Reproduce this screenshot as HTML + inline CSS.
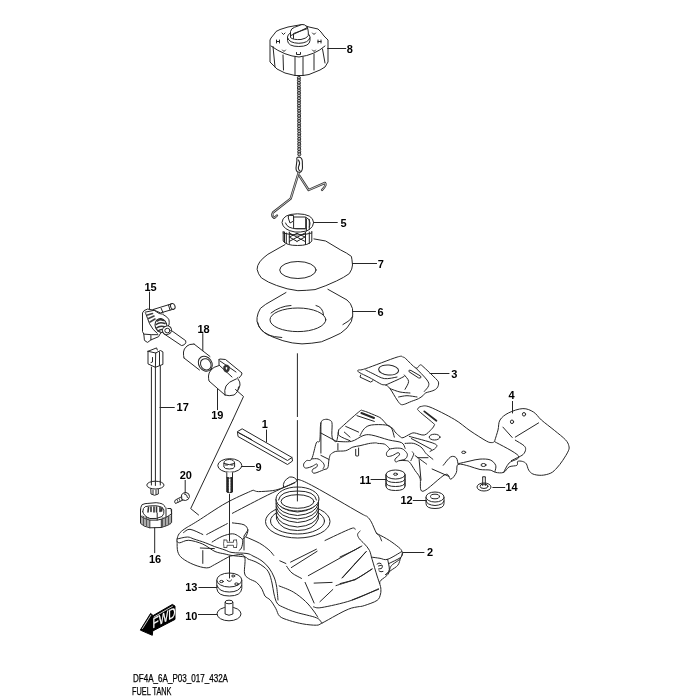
<!DOCTYPE html>
<html><head><meta charset="utf-8">
<style>
html,body{margin:0;padding:0;background:#fff;width:700px;height:700px;overflow:hidden}
svg{position:absolute;left:0;top:0;will-change:transform}
.l{fill:none;stroke:#262626;stroke-width:1;stroke-linejoin:round;stroke-linecap:round}
.w{fill:#fff;stroke:#262626;stroke-width:1;stroke-linejoin:round}
.n{font-family:"Liberation Sans",sans-serif;font-weight:bold;font-size:11px;fill:#000}
.t{font-family:"Liberation Sans",sans-serif;font-size:10px;fill:#000;stroke:#000;stroke-width:0.25}
</style></head><body>
<svg width="700" height="700" viewBox="0 0 700 700">
<path class="w" d="M177.1,539.0 C177.4,537.7 177.8,535.5 179.1,533.8 C180.4,532.1 181.8,530.8 184.9,528.7 C188.0,526.6 190.8,525.3 197.7,521.0 C204.5,516.7 217.2,507.9 226.0,503.0 C234.8,498.1 245.8,493.4 250.5,491.3 C255.2,489.2 252.7,490.6 254.0,490.6 C255.3,490.7 255.4,491.6 258.5,491.6 C261.6,491.6 268.6,491.2 272.7,490.6 C276.8,490.0 279.2,489.1 283.0,487.7 C286.8,486.3 292.9,483.3 295.6,482.0 C298.3,480.7 295.8,478.8 299.0,479.7 C302.2,480.6 304.8,481.6 315.0,487.1 C325.2,492.6 351.3,508.0 360.0,512.9 C368.7,517.8 365.2,515.1 367.1,516.6 C369.0,518.1 369.8,519.4 371.4,522.1 C372.9,524.9 375.2,531.1 376.4,533.1 C377.6,535.1 376.5,533.2 378.6,534.4 C380.8,535.6 386.0,538.2 389.3,540.4 C392.6,542.5 396.6,545.6 398.7,547.3 C400.8,549.0 401.1,549.6 401.7,550.7 C402.3,551.8 402.5,552.7 402.1,554.1 C401.8,555.5 401.2,557.6 399.6,559.3 C398.0,561.0 394.3,563.0 392.7,564.4 C391.1,565.8 390.8,566.4 390.1,567.8 C389.5,569.2 389.5,571.6 388.8,573.0 C388.1,574.4 387.4,575.0 385.9,576.4 C384.4,577.8 380.8,579.7 379.9,581.6 C379.0,583.5 380.7,585.9 380.8,588.0 C380.9,590.1 381.1,591.9 380.5,594.0 C379.9,596.1 379.8,598.5 377.1,600.4 C374.4,602.3 367.5,604.5 364.3,605.6 C361.1,606.7 360.0,606.4 357.8,606.8 C355.6,607.2 353.5,607.5 351.4,608.1 C349.3,608.8 347.6,609.5 345.0,610.7 C342.4,611.9 339.9,613.3 336.0,615.4 C332.1,617.5 325.1,621.6 321.8,623.2 C318.5,624.8 319.6,625.1 316.4,625.2 C313.2,625.3 307.3,624.7 302.8,623.9 C298.3,623.1 293.1,621.8 289.3,620.5 C285.5,619.2 282.1,618.4 279.8,616.4 C277.5,614.4 277.3,611.0 275.7,608.3 C274.1,605.6 272.1,602.1 270.3,600.1 C268.5,598.1 266.3,597.8 264.9,596.0 C263.5,594.2 263.5,591.5 262.1,589.3 C260.7,587.0 258.9,584.3 256.7,582.5 C254.4,580.7 250.6,580.0 248.6,578.4 C246.6,576.8 245.2,576.7 244.5,573.0 C243.8,569.3 246.3,558.9 244.3,556.0 C242.3,553.1 235.5,555.3 232.4,555.7 C229.3,556.1 229.0,556.8 226.0,558.3 C223.0,559.8 217.6,563.1 214.4,564.7 C211.2,566.3 210.1,567.9 206.7,567.9 C203.3,567.9 198.0,566.3 193.9,564.7 C189.8,563.1 185.0,560.4 182.3,558.3 C179.6,556.1 178.7,554.6 177.8,551.8 C176.9,549.0 177.2,543.7 177.1,541.6 C177.0,539.5 176.8,540.3 177.1,539.0 Z"/>
<path class="l" d="M232.4,513.3 C237.3,510.7 253.9,502.0 262.0,497.9 C270.1,493.8 275.3,491.4 280.7,488.9 C286.1,486.4 292.1,484.1 294.4,483.1"/>
<path class="l" d="M283.5,487.5 Q282,481 289.7,477 Q295,476.5 297,480.5"/>
<path class="l" d="M183.6,532.6 C184.7,532.0 186.8,529.0 190.0,529.3 C193.2,529.6 200.7,533.6 202.8,534.5"/>
<path class="l" d="M206.7,534.5 C208.4,533.6 213.6,530.8 217.0,529.0 C220.4,527.2 225.6,524.5 227.3,523.6"/>
<path class="l" d="M232.4,522.9 C234.3,523.2 241.4,523.6 244.0,524.8 C246.6,526.0 247.5,528.1 247.8,530.0 C248.1,531.9 246.8,534.9 245.9,536.4 C245.1,537.9 243.2,538.6 242.7,539.0"/>
<path class="l" d="M177.1,539.0 C178.8,538.7 184.6,537.0 187.4,537.0 C190.2,537.0 190.9,538.0 193.9,539.0 C196.9,540.0 202.0,541.5 205.4,542.8 C208.8,544.0 211.1,545.3 214.4,546.5 C217.7,547.7 222.1,549.0 225.0,550.0 C227.9,551.0 228.3,551.9 232.0,552.5 C235.7,553.1 243.5,552.9 247.0,553.5 C250.5,554.1 250.5,554.8 253.0,556.0 C255.5,557.2 259.3,559.0 262.0,561.0 C264.7,563.0 267.0,565.3 269.0,568.0 C271.0,570.7 272.8,574.0 274.0,577.0 C275.2,580.0 275.8,582.2 276.5,586.0 C277.2,589.8 277.8,597.7 278.0,600.0"/>
<path class="l" d="M176.8,541.0 C177.3,541.3 177.7,542.9 179.7,542.8 C181.7,542.7 184.8,540.1 188.7,540.3 C192.5,540.5 198.4,542.2 202.8,544.1 C207.2,546.0 211.3,549.9 215.0,551.5 C218.7,553.1 222.2,553.3 225.0,554.0 C227.8,554.7 228.7,555.0 232.0,555.5 C235.3,556.0 242.3,556.4 245.0,557.0 C247.7,557.6 246.2,558.2 248.0,559.0 C249.8,559.8 253.3,560.7 256.0,562.0 C258.7,563.3 261.8,565.2 264.0,567.0 C266.2,568.8 267.7,570.3 269.0,573.0 C270.3,575.7 271.2,579.5 272.0,583.0 C272.8,586.5 273.2,590.7 274.0,594.0 C274.8,597.3 275.6,600.9 277.0,603.0 C278.4,605.1 279.3,605.4 282.5,606.9 C285.7,608.4 290.5,610.5 296.1,612.3 C301.8,614.1 312.1,616.0 316.4,617.8 C320.7,619.6 320.9,622.3 321.8,623.2"/>
<path class="w" d="M211.8,542.2 C213.5,541.2 218.7,537.8 222.1,536.4 C225.5,535.0 229.6,533.8 232.4,533.8 C235.2,533.8 237.1,535.3 238.8,536.4 C240.5,537.5 242.3,538.4 242.7,540.3 C243.1,542.2 242.1,546.3 241.4,548.0 C240.8,549.7 239.2,550.2 238.8,550.6"/>
<path class="l" d="M224,540 L227,540 L227,542.3 L233.5,542.3 L233.5,540 L236.5,540 M224,547.5 L227,547.5 L227,545.3 L233.5,545.3 L233.5,547.5 L236.5,547.5 M224,540 Q223,543.8 224,547.5 M236.5,540 Q237.5,543.8 236.5,547.5" style="stroke-width:0.8;stroke:#333"/>
<path class="l" d="M202.8,550.6 V563.4 M200.3,548 L214.4,548.6 M248,530 L244,536 L244,550"/>
<path class="l" d="M245.9,537.0 C248.2,538.0 255.6,541.0 259.4,543.1 C263.2,545.2 266.5,547.9 268.9,549.9 C271.3,551.9 272.9,554.5 273.7,555.4"/>
<ellipse class="w" cx="297.75" cy="521.5" rx="32.25" ry="16.5"/>
<ellipse class="l" cx="297.5" cy="521" rx="27" ry="13"/>
<path class="w" d="M276,499 L276.5,519 Q281,530.5 297.5,530.5 Q314,530.5 318.3,519 L318.5,499"/>
<path class="l" d="M276.2,500 Q279,510.5 297.5,512 Q316,510.5 318.4,500"/>
<path class="l" d="M276.2,503.5 Q279,514 297.5,515.5 Q316,514 318.4,503.5"/>
<path class="l" d="M276.2,507 Q279,517.5 297.5,519 Q316,517.5 318.4,507"/>
<path class="l" d="M276.2,510.5 Q279,521 297.5,522.5 Q316,521 318.4,510.5"/>
<path class="l" d="M276.2,515 Q279,525.5 297.5,527 Q316,525.5 318.4,515"/>
<ellipse class="w" cx="297.5" cy="499" rx="21.5" ry="12"/>
<path class="l" d="M278.5,500 Q280,491 297.5,491 Q315,491 316.5,500"/>
<ellipse class="l" cx="297.5" cy="501.5" rx="16.5" ry="6.8"/>
<path class="l" d="M325.0,540.5 C329.3,538.5 346.0,530.4 351.0,528.6 C356.0,526.8 354.3,529.4 355.0,529.5"/>
<path class="l" d="M360.1,531.0 C359.7,531.6 357.7,533.1 357.6,534.4 C357.5,535.7 358.2,537.1 359.3,538.7 C360.4,540.3 362.7,542.0 364.4,543.9 C366.1,545.8 368.1,547.7 369.4,550.3 C370.7,552.9 370.8,555.0 372.1,559.3 C373.4,563.6 375.8,571.9 377.1,576.0 C378.4,580.1 379.3,582.4 379.7,583.7"/>
<path class="l" d="M376.4,533.1 C376.9,533.6 378.6,534.7 379.5,536.0 C380.4,537.3 381.2,540.1 381.6,540.9"/>
<path class="l" d="M401.7,551.6 C399.4,552.9 391.2,558.2 387.6,559.3 C384.0,560.4 382.7,558.7 380.0,558.3 C377.3,557.9 372.8,557.3 371.3,557.1"/>
<path class="l" d="M402.6,553.3 C402.2,554.0 402.7,555.9 400.4,557.6 C398.1,559.3 390.7,562.6 388.8,563.6"/>
<path class="l" d="M387.6,559.3 C387.9,561.0 389.6,567.0 389.3,569.6 C389.0,572.2 386.5,573.9 385.9,574.7"/>
<path class="l" d="M400.4,558.4 C400.0,559.5 399.4,563.3 397.8,565.3 C396.2,567.3 393.1,568.8 391.0,570.4 C388.9,572.0 386.3,574.0 385.4,574.7"/>
<path class="l" d="M355,549.9 L361.9,546 M355,563.6 L366.1,551.6 M355,579.8 L372.1,569.1 M342,577.9 L355,563.6 M340,583.6 L355,579.8 M340,557 L355,549.9 M352,600 L378.6,589.3"/>
<path class="l" d="M290.6,562.1 L316.4,549.2 M291.3,567.6 L317.1,551.3 M308.3,575.7 L360,547"/>
<path class="l" d="M279.8,560.8 L285.9,563.5"/>
<path class="l" d="M286.6,566.2 C287.5,567.3 289.5,571.0 292.0,573.0 C294.5,575.0 299.9,577.5 301.5,578.4"/>
<path class="l" d="M305.1,582.4 L314.1,603 M314.1,583.1 L332.1,582.4 M319.9,601.7 L332.8,589.5 M342.4,577.9 L366.2,551.6"/>
<path class="l" d="M336.0,585.6 C339.4,584.4 350.6,581.4 356.6,578.6 C362.6,575.8 369.4,570.5 372.0,568.9"/>
<path class="l" d="M313.5,606.8 C314.9,606.9 315.6,608.6 321.9,607.5 C328.2,606.4 342.0,603.5 351.4,600.4 C360.8,597.3 373.9,590.7 378.4,588.8"/>
<path class="l" d="M279.1,585.9 C281.5,586.9 288.9,589.4 293.3,592.0 C297.7,594.6 302.2,598.3 305.6,601.5 C309.0,604.7 311.7,608.4 313.7,611.0 C315.7,613.6 317.1,616.1 317.8,617.1"/>
<path class="l" d="M377,564 Q379,562 381,563.5 M378.5,566 L382,565 Q383,567 381.5,568.5 L378.5,569 M379,571 Q381,572.5 383,571.5"/>
<text class="n" x="427" y="556.4">2</text>
<path class="l" d="M402.7,552.5 H424"/>
<path class="w" d="M216.8,580 L216.8,588.5 Q217.5,596 229.3,596 Q241,596 241.8,588.5 L241.8,580"/>
<path class="l" d="M217,585.5 Q219,592 229.3,592 Q239.5,592 241.6,585.5"/>
<ellipse class="w" cx="229.3" cy="580" rx="12.5" ry="7"/>
<ellipse class="l" cx="221.5" cy="581.5" rx="1.8" ry="1.1"/>
<ellipse class="l" cx="236.5" cy="584" rx="1.8" ry="1.1"/>
<ellipse class="l" cx="233.2" cy="576" rx="1.5" ry="1"/>
<path class="l" d="M227,580 Q229.3,583 231.6,580"/>
<path class="l" d="M229.5,556 V578"/>
<text class="n" x="185.2" y="591.3">13</text>
<path class="l" d="M198.8,587.5 H217"/>
<ellipse class="w" cx="229" cy="613.9" rx="12" ry="6.9"/>
<path class="w" d="M225.1,602 L225.1,614 Q229,616.5 232.9,614 L232.9,602"/>
<ellipse class="w" cx="229" cy="602" rx="3.9" ry="1.8"/>
<text class="n" x="185.2" y="619.5">10</text>
<path class="l" d="M198.4,614.5 H217"/>
<path class="w" d="M140.3,630.1 L150.6,613.4 L153.1,615.6 L172.4,604.4 L175,606.1 L175,619.4 L152.7,631 L152.3,635.3 Z" style="fill:#000;stroke:#000"/>
<path class="l" d="M142.5,628.5 L150.8,615.3 M154,617 L172.5,606.3" style="stroke:#fff;stroke-width:0.8"/>
<text x="0" y="0" transform="translate(152.5,628.5) skewY(-28) scale(0.72,1)" style="font-family:'Liberation Sans',sans-serif;font-size:14px;fill:#fff;stroke:#fff;stroke-width:0.3">FWD</text>
<path class="l" d="M360.7,375 L360,377.1 L370.7,382.1 L372.9,380.7"/>
<path class="w" d="M357.9,371.4 C357.4,370.8 357.3,370.5 358.6,370.0 C359.9,369.5 359.3,370.8 365.7,368.6 C372.1,366.5 390.9,359.0 397.1,357.1 C403.3,355.2 401.5,356.9 402.9,357.1 C404.3,357.4 403.6,356.8 405.7,358.6 C407.8,360.4 413.3,366.8 415.7,367.9 C418.1,369.0 418.8,365.2 420.0,365.0 C421.2,364.8 420.3,364.1 422.9,366.4 C425.5,368.7 433.1,375.9 435.7,378.6 C438.3,381.4 438.4,381.3 438.6,382.9 C438.8,384.4 438.1,386.6 437.1,387.9 C436.2,389.2 434.8,389.9 432.9,390.7 C431.0,391.5 427.4,392.1 425.7,392.9 C424.0,393.7 424.1,394.8 422.9,395.7 C421.7,396.6 420.5,397.7 418.6,398.6 C416.7,399.6 413.8,400.4 411.4,401.4 C409.0,402.3 406.1,403.8 404.3,404.3 C402.5,404.8 401.9,405.0 400.7,404.3 C399.5,403.6 398.9,402.6 397.1,400.0 C395.3,397.4 391.9,391.1 390.0,388.6 C388.1,386.1 387.1,385.7 385.7,385.0 C384.3,384.3 383.8,385.4 381.4,384.3 C379.0,383.2 374.7,380.4 371.4,378.6 C368.1,376.8 363.6,374.8 361.4,373.6 C359.1,372.4 358.4,372.0 357.9,371.4 Z"/>
<ellipse class="l" cx="388.6" cy="370" rx="10" ry="5" transform="rotate(5 388.6 370)"/>
<path class="l" d="M409,371.5 Q408,369.5 411,370.5 L420.5,376 Q422,378.5 419,378 Z"/>
<path class="l" d="M365.7,370.0 C366.9,370.6 369.8,372.2 372.9,373.6 C376.0,375.0 380.3,378.0 384.3,378.6 C388.3,379.2 394.9,377.3 397.0,377.0"/>
<path class="l" d="M385.7,385.0 C387.6,384.2 393.9,381.4 397.0,380.0 C400.1,378.6 402.8,377.1 404.0,376.5"/>
<path class="l" d="M415.7,367.9 C417.6,369.9 424.9,377.0 427.0,380.0 C429.1,383.0 429.1,383.8 428.6,385.7 C428.2,387.6 425.0,390.4 424.3,391.4"/>
<path class="l" d="M404.3,375.0 C405.0,376.1 408.5,379.0 408.6,381.4 C408.7,383.8 405.6,388.0 405.0,389.3"/>
<path class="l" d="M390.0,388.6 C391.7,389.2 396.7,391.3 400.0,392.0 C403.3,392.7 408.3,392.8 410.0,393.0"/>
<path class="l" d="M398.6,397.0 C400.0,396.8 403.9,395.7 407.0,395.7 C410.1,395.7 415.3,396.8 417.0,397.0"/>
<text class="n" x="451.2" y="377.6">3</text>
<path class="l" d="M430,373.5 H449"/>
<path class="w" d="M320.9,422.9 C321.9,419.3 324.1,419.7 325.7,419.3 C327.3,418.9 329.6,419.9 330.7,420.7 C331.8,421.5 331.9,421.6 332.1,424.3 C332.3,427.0 331.4,434.2 332.1,437.1 C332.8,440.0 335.3,442.5 336.4,441.4 C337.5,440.3 338.0,432.8 338.6,430.7 C339.2,428.6 336.7,431.7 340.0,428.6 C343.3,425.5 354.8,415.1 358.6,412.1 C362.4,409.1 360.3,410.2 362.9,410.7 C365.5,411.2 371.2,413.7 374.3,415.0 C377.4,416.3 379.3,416.9 381.4,418.6 C383.5,420.3 385.2,423.3 387.1,425.0 C389.0,426.7 391.6,427.4 392.9,428.6 C394.2,429.8 393.9,430.7 395.1,432.0 C396.3,433.3 398.7,435.6 400.0,436.5 C401.3,437.4 401.3,438.1 403.0,437.7 C404.7,437.3 408.1,434.9 410.0,434.1 C411.9,433.3 411.9,432.8 414.3,432.9 C416.7,433.0 421.5,435.6 424.3,435.0 C427.1,434.4 429.7,431.0 431.4,429.3 C433.1,427.6 434.1,426.1 434.3,425.0 C434.6,423.9 435.4,425.2 432.9,422.9 C430.4,420.6 421.8,413.8 419.3,411.4 C416.8,409.0 417.5,409.4 417.9,408.6 C418.2,407.8 419.4,406.6 421.4,406.4 C423.4,406.1 424.5,405.0 430.0,407.1 C435.5,409.2 447.6,415.4 454.3,419.3 C461.0,423.2 464.7,427.1 470.0,430.7 C475.3,434.3 482.7,439.0 486.3,441.0 C489.9,443.0 490.5,442.5 491.8,442.6 C493.1,442.7 493.6,442.2 494.1,441.8 C494.6,441.4 494.2,442.2 494.9,440.2 C495.5,438.2 497.1,433.4 498.0,430.0 C498.9,426.6 498.2,422.9 500.0,420.0 C501.8,417.1 504.8,414.8 508.6,412.9 C512.4,411.0 518.7,408.7 522.9,408.6 C527.1,408.5 530.5,410.2 533.6,412.1 C536.7,414.0 538.0,417.0 541.4,420.0 C544.8,423.0 550.3,427.0 554.3,430.3 C558.3,433.6 563.0,437.1 565.4,439.7 C567.8,442.3 568.3,443.8 568.8,445.7 C569.3,447.6 569.4,448.4 568.4,450.8 C567.4,453.2 564.7,457.4 562.8,460.3 C560.9,463.2 558.8,465.9 556.8,468.0 C554.8,470.1 553.4,471.9 550.8,473.1 C548.2,474.3 544.4,475.2 541.4,475.3 C538.4,475.4 535.0,474.9 532.9,474.0 C530.8,473.1 529.8,471.8 528.7,470.1 C527.6,468.4 527.3,465.2 526.3,463.8 C525.2,462.4 523.8,461.8 522.4,461.4 C521.0,461.0 518.6,460.8 517.7,461.4 C516.8,462.0 518.3,464.4 516.9,465.3 C515.5,466.2 511.3,465.7 509.1,466.9 C506.9,468.1 505.8,471.5 503.6,472.4 C501.4,473.3 497.9,472.8 495.7,472.4 C493.5,472.0 492.8,470.6 490.2,470.1 C487.6,469.6 483.5,470.1 480.0,469.5 C476.5,468.9 472.9,467.1 469.3,466.2 C465.7,465.3 460.3,463.3 458.1,464.4 C455.9,465.5 457.5,470.2 456.3,472.7 C455.1,475.2 452.6,478.9 450.7,479.2 C448.8,479.5 449.7,472.6 445.1,474.6 C440.5,476.6 427.1,490.7 422.9,491.3 C418.7,491.9 421.3,481.4 420.0,478.0 C418.7,474.6 416.9,473.3 415.1,470.6 C413.3,467.9 411.1,463.7 409.4,462.0 C407.7,460.3 406.8,460.8 405.1,460.6 C403.4,460.4 400.9,460.4 399.4,460.6 C397.9,460.8 396.6,462.2 395.9,462.0 C395.2,461.8 394.5,460.3 395.1,459.1 C395.7,457.9 398.9,456.0 399.4,454.9 C399.9,453.8 399.2,452.6 398.0,452.7 C396.8,452.8 394.1,455.0 392.3,455.6 C390.5,456.2 388.2,456.8 387.3,456.3 C386.4,455.8 386.2,453.9 386.6,452.7 C387.0,451.5 389.2,450.1 389.4,449.1 C389.6,448.2 388.8,447.8 388.0,447.0 C387.2,446.2 386.1,444.7 384.4,444.1 C382.7,443.5 379.4,443.6 378.0,443.4 C376.6,443.2 377.3,442.9 375.7,442.9 C374.1,442.9 371.2,443.1 368.6,443.6 C366.0,444.1 362.6,445.1 360.0,445.7 C357.4,446.3 355.3,446.3 352.9,447.1 C350.5,447.9 348.6,450.0 345.7,450.7 C342.8,451.4 338.2,450.8 335.7,451.4 C333.2,452.0 331.6,453.6 330.7,454.3 C329.8,455.0 330.3,454.4 330.0,455.4 C329.7,456.3 329.3,457.9 328.9,460.0 C328.5,462.1 328.6,466.4 327.7,468.0 C326.8,469.6 325.8,468.8 323.7,469.7 C321.6,470.6 317.0,472.7 315.1,473.1 C313.2,473.5 312.7,472.7 312.3,472.0 C311.9,471.3 312.2,469.9 312.9,469.1 C313.6,468.3 315.6,468.1 316.3,467.4 C317.1,466.7 317.4,465.7 317.4,465.1 C317.4,464.5 317.1,463.8 316.3,464.0 C315.5,464.2 313.8,465.6 312.3,466.3 C310.8,467.0 308.4,467.8 307.1,468.0 C305.8,468.2 304.9,468.1 304.3,467.4 C303.7,466.7 303.3,465.1 303.7,464.0 C304.1,462.9 305.3,461.5 306.6,460.6 C307.9,459.8 310.1,461.8 311.7,458.9 C313.3,455.9 315.0,445.9 316.3,442.9 C317.6,439.8 318.9,443.9 319.7,440.6 C320.5,437.3 319.9,426.4 320.9,422.9 Z"/>
<path class="l" d="M320.9,422.9 V453.1 M320.7,432.9 L336.4,441.4 M337.9,443.6 V450"/>
<path class="l" d="M338.6,430.7 C338.7,431.5 337.4,434.0 339.3,435.7 C341.2,437.4 348.2,439.9 350.0,440.7"/>
<path class="l" d="M345.7,426.4 L358.6,432.1 M344.3,432.1 L350,437.1 M357,415.7 L374.3,421.4"/>
<path class="l" d="M361.4,413 L374,418" style="stroke-width:2"/>
<path class="l" d="M360.0,435.7 C360.7,434.5 362.4,430.4 364.3,428.6 C366.2,426.8 367.8,425.6 371.4,425.0 C375.0,424.4 382.4,424.5 385.7,425.0 C389.0,425.5 390.0,425.9 391.4,427.9 C392.8,429.9 393.8,435.6 394.3,437.1"/>
<path class="l" d="M336.4,441.4 C338.9,441.4 347.0,442.3 351.4,441.4 C355.8,440.4 359.6,436.8 362.9,435.7 C366.2,434.6 367.1,434.3 371.4,435.0 C375.7,435.7 383.6,438.6 388.6,439.9 C393.6,441.2 398.9,441.3 401.6,442.7 C404.4,444.1 404.5,447.4 405.1,448.4"/>
<path class="l" d="M405.1,443.4 C406.5,443.4 411.1,442.8 413.7,443.4 C416.3,444.0 419.1,445.7 420.9,447.0 C422.7,448.3 423.4,450.1 424.4,451.3 C425.3,452.5 425.2,452.8 426.6,454.1 C428.0,455.4 431.8,458.4 432.9,459.3"/>
<path class="l" d="M389.4,449.1 C390.5,448.9 393.8,448.2 395.9,448.1 C398.0,448.1 400.5,448.0 402.3,448.8 C404.1,449.6 405.8,451.6 406.6,452.7 C407.4,453.8 407.6,454.5 407.3,455.6 C407.1,456.7 406.4,458.3 405.1,459.1 C403.8,459.9 400.3,460.4 399.4,460.6"/>
<path class="l" d="M412.3,452.0 C412.5,452.4 413.9,452.7 413.7,454.1 C413.5,455.5 411.4,459.5 410.9,460.6"/>
<path class="l" d="M415.1,455.6 C416.1,456.3 419.0,458.5 420.9,459.9 C422.8,461.3 425.7,463.4 426.6,464.1"/>
<path class="l" d="M417.3,457.7 L428,457.7 M419.1,459.7 L421,480.1 M432.1,469 L448.9,476.4"/>
<path class="l" d="M311.7,458.9 C312.8,458.9 316.2,458.3 318.0,458.9 C319.8,459.5 321.6,461.2 322.6,462.3 C323.7,463.4 324.2,464.6 324.3,465.7 C324.4,466.8 323.3,468.1 323.1,468.6"/>
<path class="l" d="M320.9,455.4 L328.9,459.4"/>
<path class="l" d="M355.7,449.3 L355.7,455.7 Q357.2,456.5 358.6,455.7 L358.6,448"/>
<path class="l" d="M424.3,411.4 L436.4,420.7" style="stroke-width:1.8"/>
<ellipse class="l" cx="434.6" cy="437.1" rx="5.4" ry="2.9"/>
<path class="l" d="M409.3,436.4 C413.5,437.6 429.9,441.7 434.3,443.6 C438.7,445.5 436.4,446.6 435.7,447.9 C435.0,449.2 430.9,450.8 430.0,451.4"/>
<path class="l" d="M411.4,438.6 L431.4,449.3"/>
<path class="l" d="M443.3,465.3 C444.5,463.9 448.5,458.1 450.7,456.9 C452.9,455.7 455.1,456.6 456.3,457.9 C457.5,459.1 457.8,463.3 458.1,464.4"/>
<path class="l" d="M458.6,463.6 C460.5,463.2 466.4,461.8 470.0,461.0 C473.6,460.2 476.6,459.3 480.0,459.1 C483.4,458.9 487.6,458.9 490.2,459.9 C492.8,460.9 494.9,463.4 495.7,465.3 C496.5,467.2 495.0,470.6 494.9,471.6"/>
<path class="l" d="M494.9,441.8 C498.8,444.1 516.1,452.4 518.5,455.9 C520.9,459.4 511.6,460.2 509.1,463.0 C506.6,465.8 504.5,470.8 503.6,472.4"/>
<path class="l" d="M515.3,440.2 C516.8,441.1 522.3,444.1 524.0,445.7 C525.7,447.3 525.7,448.2 525.6,449.6 C525.5,451.1 524.5,453.1 523.2,454.4 C521.9,455.7 519.7,456.5 517.7,457.5 C515.7,458.5 512.5,460.1 511.4,460.6"/>
<ellipse class="l" cx="463.7" cy="452.3" rx="2" ry="1.2"/>
<ellipse class="l" cx="483.5" cy="465" rx="2.5" ry="1.5"/>
<ellipse class="l" cx="512" cy="421.8" rx="1.6" ry="1.8"/>
<ellipse class="l" cx="524" cy="414.3" rx="1.6" ry="1.8"/>
<path class="l" d="M502.9,427.1 L512.2,437.5 M515.3,437.1 L538.6,422.9"/>
<text class="n" x="508.4" y="399.4">4</text>
<path class="l" d="M512.5,401.4 V413"/>
<path class="w" d="M386,483 L386,486 Q386,490.5 395.5,490.5 Q405,490.5 405,486 L405,483"/>
<path class="w" d="M386,479 L386,482 Q386,486.5 395.5,486.5 Q405,486.5 405,482 L405,479"/>
<path class="w" d="M386,475 L386,478 Q386,482.5 395.5,482.5 Q405,482.5 405,478 L405,475"/>
<ellipse class="w" cx="395.5" cy="474.5" rx="9.5" ry="4.5"/>
<path class="l" d="M386,474.5 V486 M405,474.5 V486"/>
<ellipse class="l" cx="395.5" cy="474.2" rx="2" ry="1.1"/>
<text class="n" x="359.5" y="484">11</text>
<path class="l" d="M371,479.5 H386.2"/>
<path class="w" d="M426,497 L426,503.5 Q426,508.5 435,508.5 Q444,508.5 444,503.5 L444,497"/>
<path class="l" d="M426,501 Q427,505 435,505.5 Q443,505 444,501"/>
<ellipse class="w" cx="435" cy="497" rx="9" ry="5"/>
<ellipse class="l" cx="435" cy="496.5" rx="4.5" ry="2.3"/>
<text class="n" x="400.5" y="504">12</text>
<path class="l" d="M413.2,500.5 H426.4"/>
<ellipse class="w" cx="484" cy="487" rx="7" ry="4"/>
<ellipse class="l" cx="484" cy="486.3" rx="4" ry="2.2"/>
<path class="l" d="M482.7,477 L482.7,485.5 M485.3,477 L485.3,485.5 M482.7,477 Q484,475.8 485.3,477"/>
<text class="n" x="505.5" y="491.2">14</text>
<path class="l" d="M492.8,487.5 H504.8"/>
<text class="t" x="133" y="681.5" textLength="95" lengthAdjust="spacingAndGlyphs">DF4A_6A_P03_017_432A</text>
<text class="t" x="132" y="694.5" textLength="39.5" lengthAdjust="spacingAndGlyphs">FUEL TANK</text>

<!-- CAP 8 -->
<g id="cap">
<path class="w" d="M270,40 L271,38 L275,33 L276,31.5 L280,29.5 L288,27 L302,24.5 L309,27 L318,29 L321,32 L324,36 L328,40 L328,62 L325,67 L320,70 L309,74.5 L303,75.5 L295,75.5 L285,73 L277,69 L273,65 L270,62 Z"/>
<path class="l" d="M271,46 Q285,56 299,57 Q315,55 325,46"/>
<path class="l" d="M273,46.5 L275,67 M283,55 L283.5,70 M295,57 L295,75.5 M303,57 L303,75.5 M314,54 L314,70 M322.5,49 L325,63"/>
<path class="w" d="M287.5,37 L287.5,40.5 Q288,46.5 298.8,46.5 Q309.5,46.5 310,40.5 L310,37 Q309.5,31.5 298.8,31.5 Q288,31.5 287.5,37 Z"/>
<path class="l" d="M287.7,38 Q289,43 298.8,43.3 Q308.5,43 309.8,38"/>
<path class="w" d="M290.5,37.5 L290.5,31.5 Q291,28.5 294.5,27.3 L302,24.5 Q305,24.3 306.5,26.5 Q308.3,29 308.3,32 L308.3,35.5 Q307,38.5 301,39.5 Q293,40 290.5,37.5 Z"/>
<path class="l" d="M291,35.5 L307.5,27.5 M293.5,38.5 L293.5,33.5 L307.8,28.5"/>
<path class="l" d="M276.5,40 v3 M279.5,40 v3 M276.5,41.5 h3 M318,40 v3 M321,40 v3 M318,41.5 h3 M282,33 l1.5,1.5 l1.5,-1.5 M312.5,33 l1.5,1.5 l1.5,-1.5 M282.5,50 l1.5,1.5 l1.5,-1.5 M312.5,50 l1.5,1.5 l1.5,-1.5 M296.5,52.5 v2 h4 v-2"/>
</g>
<!-- chain -->

<circle cx="298.9" cy="77.8" r="1.55" style="fill:#bbb;stroke:#1e1e1e;stroke-width:0.9"/><circle cx="298.9" cy="80.3" r="1.55" style="fill:#bbb;stroke:#1e1e1e;stroke-width:0.9"/><circle cx="298.9" cy="82.9" r="1.55" style="fill:#bbb;stroke:#1e1e1e;stroke-width:0.9"/><circle cx="298.9" cy="85.5" r="1.55" style="fill:#bbb;stroke:#1e1e1e;stroke-width:0.9"/><circle cx="298.9" cy="88.0" r="1.55" style="fill:#bbb;stroke:#1e1e1e;stroke-width:0.9"/><circle cx="299.0" cy="90.5" r="1.55" style="fill:#bbb;stroke:#1e1e1e;stroke-width:0.9"/><circle cx="299.0" cy="93.1" r="1.55" style="fill:#bbb;stroke:#1e1e1e;stroke-width:0.9"/><circle cx="299.0" cy="95.6" r="1.55" style="fill:#bbb;stroke:#1e1e1e;stroke-width:0.9"/><circle cx="299.0" cy="98.2" r="1.55" style="fill:#bbb;stroke:#1e1e1e;stroke-width:0.9"/><circle cx="299.0" cy="100.8" r="1.55" style="fill:#bbb;stroke:#1e1e1e;stroke-width:0.9"/><circle cx="299.0" cy="103.3" r="1.55" style="fill:#bbb;stroke:#1e1e1e;stroke-width:0.9"/><circle cx="299.0" cy="105.8" r="1.55" style="fill:#bbb;stroke:#1e1e1e;stroke-width:0.9"/><circle cx="299.0" cy="108.4" r="1.55" style="fill:#bbb;stroke:#1e1e1e;stroke-width:0.9"/><circle cx="299.1" cy="110.9" r="1.55" style="fill:#bbb;stroke:#1e1e1e;stroke-width:0.9"/><circle cx="299.1" cy="113.5" r="1.55" style="fill:#bbb;stroke:#1e1e1e;stroke-width:0.9"/><circle cx="299.1" cy="116.0" r="1.55" style="fill:#bbb;stroke:#1e1e1e;stroke-width:0.9"/><circle cx="299.1" cy="118.6" r="1.55" style="fill:#bbb;stroke:#1e1e1e;stroke-width:0.9"/><circle cx="299.1" cy="121.1" r="1.55" style="fill:#bbb;stroke:#1e1e1e;stroke-width:0.9"/><circle cx="299.1" cy="123.7" r="1.55" style="fill:#bbb;stroke:#1e1e1e;stroke-width:0.9"/><circle cx="299.1" cy="126.2" r="1.55" style="fill:#bbb;stroke:#1e1e1e;stroke-width:0.9"/><circle cx="299.1" cy="128.8" r="1.55" style="fill:#bbb;stroke:#1e1e1e;stroke-width:0.9"/><circle cx="299.2" cy="131.3" r="1.55" style="fill:#bbb;stroke:#1e1e1e;stroke-width:0.9"/><circle cx="299.2" cy="133.9" r="1.55" style="fill:#bbb;stroke:#1e1e1e;stroke-width:0.9"/><circle cx="299.2" cy="136.4" r="1.55" style="fill:#bbb;stroke:#1e1e1e;stroke-width:0.9"/><circle cx="299.2" cy="139.0" r="1.55" style="fill:#bbb;stroke:#1e1e1e;stroke-width:0.9"/><circle cx="299.2" cy="141.5" r="1.55" style="fill:#bbb;stroke:#1e1e1e;stroke-width:0.9"/><circle cx="299.2" cy="144.1" r="1.55" style="fill:#bbb;stroke:#1e1e1e;stroke-width:0.9"/><circle cx="299.2" cy="146.6" r="1.55" style="fill:#bbb;stroke:#1e1e1e;stroke-width:0.9"/><circle cx="299.2" cy="149.2" r="1.55" style="fill:#bbb;stroke:#1e1e1e;stroke-width:0.9"/><circle cx="299.2" cy="151.8" r="1.55" style="fill:#bbb;stroke:#1e1e1e;stroke-width:0.9"/><circle cx="299.3" cy="154.3" r="1.55" style="fill:#bbb;stroke:#1e1e1e;stroke-width:0.9"/>
<!-- link + wire -->
<path class="l" style="stroke-width:1.1" d="M297,160 Q296,157 299,157 Q302,157.5 302.3,161 L302.5,168 Q302,172.5 299,172.5 Q296,172 296,168 Z M298.5,160 Q300.5,163 298.8,166 Q297.5,169 300,171"/>
<path class="l" style="stroke-width:2.3;stroke:#333" d="M298.6,172.9 L290.7,198.6 L273,212.5 Q271,216 274.3,217.9 L277,215.5"/><path class="l" style="stroke-width:0.7;stroke:#fff" d="M298.6,172.9 L290.7,198.6 L273,212.5 Q271,216 274.3,217.9 L277,215.5"/>
<path class="l" style="stroke-width:2.3;stroke:#333" d="M299.3,175.7 L308.6,190 L325,182.9 Q327,185 322,190"/><path class="l" style="stroke-width:0.7;stroke:#fff" d="M299.3,175.7 L308.6,190 L325,182.9 Q327,185 322,190"/>
<text class="n" x="346.8" y="52.7">8</text>
<path class="l" d="M327.6,48.5 H345.8"/>

<!-- ITEM 5 filter -->
<g id="i5">
<path class="w" d="M283.2,231 L283.2,241 Q286,245.5 297.5,245.5 Q309,245.5 311.8,241 L311.8,231"/>
<path class="l" style="stroke:#222" d="M289.3,233 L305,241.4 M289.3,241.4 L305,233 M289.3,237 L297,233.3 M297,241.4 L305,237 M289.3,237 L297,241.4 M297,233.3 L305,237 M289.3,232 L289.3,243.5 M305.5,232.5 L305.5,244.5 M284.5,232 L284.5,242.5 M286.3,233 L286.3,243.5 M309.3,232 L309.3,243.5"/>
<path class="l" d="M283,233 Q297.5,237 311.8,233"/>
<path class="w" d="M282,222.5 Q282.5,214 297.5,213.8 Q313,214 313.6,222.5 Q313.3,227 309.3,229.5 L306.5,231 Q300,232.5 295,232 Q283,230 282,222.5 Z"/>
<path class="l" d="M285.5,223 Q287,228.5 297,228.8 L306.4,228.8 M306.4,217.5 Q310,219 310,223 Q309.8,226 309.3,227"/>
<path class="w" d="M293.6,217 L305.7,217 L305.7,228.6 L293.6,228.6 Z"/>
<path class="w" d="M288.5,215.3 L293.5,215.5 L293.6,221 L290,223 L288.3,218 Z"/>
<path class="l" d="M306.4,219 L306.4,231 M309.3,219.5 L309.3,229.5"/>
</g>
<text class="n" x="340.5" y="226.8">5</text>
<path class="l" d="M313.5,222.5 H337.3"/>
<!-- ITEM 7 gasket -->
<path class="l" d="M285,244.6 L267.9,254.3 Q257,262 257.1,269.3 Q258,274 261.4,277.9 Q268,282.5 276.4,285.4 Q287,289.5 297.9,290.7 Q306,290.5 315,289.6 Q326,286 336.4,281 Q344,277.5 349.3,273.6 Q352.5,269 352.5,265 Q352,259 351.4,256.4 Q347,253 340.7,250 L325.7,241 L313.9,238.9"/>
<ellipse class="l" cx="297.9" cy="270" rx="18.2" ry="8.5"/>
<text class="n" x="377.7" y="268.2">7</text>
<path class="l" d="M352.5,263.5 H376.6"/>
<!-- ITEM 6 gasket -->
<path class="l" d="M286,292.5 L265.7,304.3 Q259,308 258.2,312.9 Q256.5,318 257,321.4 Q258,327.5 263.6,332 Q272,337.5 282.9,340.7 Q292,343.5 302,343.9 Q312,343.5 321.4,341.8 Q331,338 340.7,333.2 Q348,328.5 351.4,321.4 Q353.5,315 352.5,308.6 Q351,303 347,300 L327.9,289.3"/>
<path class="l" d="M257.5,322 Q259,330 268,335 Q274,337 281.8,337.5 M342.9,324.6 Q350,321 352.5,317"/>
<ellipse class="l" cx="297.9" cy="319.8" rx="27.9" ry="11.8"/>
<path class="l" d="M271,313 Q280,306 291,305.5 M316,305.5 Q323,307 323.5,315"/>
<text class="n" x="377.6" y="315.5">6</text>
<path class="l" d="M352.7,311.5 H375.5"/>
<!-- vertical center line -->
<path class="l" d="M297.4,353.7 V416.6 M297.4,420.5 V501"/>

<!-- ITEM 15 -->
<g id="i15">
<path class="w" d="M166.5,327 L185.7,340.7 Q186.5,343 184.5,344.5 Q183,345.5 181.4,345.5 L163.5,333.5 Z"/>
<path class="w" d="M152.8,309.6 L171.4,303.9 L174,309 L160.5,312.9 Z"/>
<ellipse class="w" cx="172.8" cy="306.4" rx="2.2" ry="3" transform="rotate(-20 172.8 306.4)"/>
<path class="l" d="M168.5,305 L170,310 M161.2,308.4 L163.1,312.9"/>
<path class="w" d="M142.5,312.9 Q143,310.3 147.6,309 L154.1,310.3 L159.2,313.5 L162.4,314.1 Q166.3,316.1 168.9,319.3 Q169.5,322.5 169,325 L160,334.1 L158.6,336.7 L150.9,339.9 L147.6,342.4 Q144.4,341 144.4,339.9 L143.8,334.1 L142.5,331.5 Z"/>
<path class="l" d="M145.7,313.5 Q147.6,318.6 149.6,323.8 Q152.8,330.2 157.3,333.4 M143.8,334.1 Q151.5,335 157.9,334.7 M150.9,335.5 V339.9 M145.1,312.2 L154.1,310.3"/>
<path class="l" style="stroke-width:1.6;stroke:#444" d="M147.5,315 L152.5,313.5 M148.5,318.5 L154,316 M150,322 L155,319"/>
<ellipse class="w" cx="161" cy="325.5" rx="5.8" ry="7" transform="rotate(-20 161 325.5)"/>
<path class="l" style="stroke-width:1.5;stroke:#333" d="M157.5,321 Q160,318.5 163.5,320.5 M156.2,324.5 Q159.5,321.5 165,323.5 M156.5,328 Q160,325 165.5,327 M158,331 Q161,328.5 164.5,330"/>
<ellipse class="w" cx="167" cy="330.3" rx="4.6" ry="4.2" transform="rotate(-30 167 330.3)"/>
<ellipse class="l" cx="167.4" cy="330.6" rx="2.6" ry="2.3"/>
</g>
<text class="n" x="144.5" y="291">15</text>
<path class="l" d="M149.5,292 V309"/>
<!-- ITEM 18 hose -->
<path class="l" d="M194,344 L210,356.5 M184,358 L199.5,370 M194,344 Q189,344 187,346 Q183.5,349 183.5,352 Q183.3,355.5 184,358"/>
<ellipse class="w" cx="205.3" cy="363.7" rx="6.5" ry="7.9" transform="rotate(-35 205.3 363.7)"/>
<ellipse class="l" cx="205.8" cy="364.3" rx="5" ry="5.9" transform="rotate(-35 205.8 364.3)"/>
<text class="n" x="197.5" y="332.7">18</text>
<path class="l" d="M202.8,333.6 V350.7"/>
<!-- ITEM 19 clip -->
<g id="i19">
<path class="l" d="M219,365.5 Q213,367 211,370 Q208.5,373 208.5,376 Q208.5,379 209,381 L225,395"/>
<path class="l" d="M225,395 Q229,396.5 234,395 Q238.5,392 238.5,387 M225,395 Q224,390 226,386 Q229,381.5 234,380 Q237,379 238,377.5"/>
<path class="l" d="M219,359.5 L220,359 L225.5,359.5 L242,373 L241.5,375 L239,378 M238,379 Q240.5,382 240,385 Q239.5,388 238,390 M220,361 L236,372 M219,359.5 L219,365 L232,377"/>
<path class="l" style="stroke-width:2.4;stroke:#333" d="M224.5,367 Q226.5,364.5 228.5,367 Q229,370.5 226.5,371.5 Q224,370.5 224.5,367"/>
<path class="l" d="M235.5,389.5 L243.5,396.5 L232.7,420"/>
</g>
<text class="n" x="211.2" y="419">19</text>
<path class="l" d="M217.5,389 V409.7"/>
<!-- ITEM 17 tie -->
<g id="i17">
<path class="l" d="M148,351.3 L156.6,347.9 L157.3,350 M148,351.3 L148,363.9 L155.4,367.3 L162.9,364.4 L162.9,351.9 L160.5,350.5 L155.7,353 L155.4,367.3 M148,351.3 L155.7,353 M152.5,357.5 L152.5,362 L151,362.5 M159.5,352 L159.5,365.5"/>
<path class="l" d="M151.4,367 V481 M155.4,367.3 V481 M160.3,366 V481"/>
<path class="w" d="M146.8,485.1 A8.6,3.9 0 1 1 164,485.1 A8.6,3.9 0 1 1 146.8,485.1 Z"/>
<path class="l" d="M151.4,481 V485 M155.4,481 V485.5 M160.3,481 V485"/>
<path class="l" d="M150.8,489 L151,494 Q154.5,496.5 158.3,494 L158.3,489 M153,490 L153,494 M156,490 L156,494"/>
</g>
<text class="n" x="176.6" y="411">17</text>
<path class="l" d="M160,407.5 H174.3"/>
<!-- ITEM 16 nut -->
<g id="i16">
<path class="w" d="M140.5,509.1 L140.5,523.3 Q143,526.5 149.8,527.8 L161.3,527.5 Q169,525.5 171.6,522.6 L171.6,509.1"/>
<path class="l" d="M140.5,516.2 Q144,519 149.8,520.1 L157.5,520.1 Q163,519 165.8,517.5 Q169.5,515.5 171.6,513.6"/>
<path class="l" style="stroke:#555" d="M142.0,515.8 V524.1 M143.5,516.4 V524.8 M145.0,516.8 V525.4 M146.5,517.3 V525.9 M148.0,517.6 V526.4 M162.5,517.9 V526.8 M164.0,517.6 V526.4 M165.5,517.3 V525.9 M167.0,516.8 V525.4 M168.5,516.4 V524.8 M170.0,515.8 V524.1"/>
<path class="l" d="M149.8,520.1 V527.8 M161.3,519.5 V527.5"/>
<path class="l" d="M140.5,510 Q140.5,507 142.1,504.6 Q145,503.4 147.9,503.4 L156.2,502.7 Q160,503 162.6,504 Q164.5,505.5 165.2,507.2 M167.8,508.5 L171,508.5 L171.6,513.6"/>
<path class="l" d="M142.7,511.7 Q143,507.5 145.3,506.6 Q150,505.5 156,505.8 Q163,506.5 163.9,510 Q164.5,514 162,516.5 Q157,519.4 150,518.5 Q144,516.5 142.7,511.7"/>
<path class="l" style="stroke-width:1.6;stroke:#333" d="M148.5,507.5 L148,512 M151,507 V511.5 M154,507 V512 M156.5,507 V512 M160,507.5 V511.5 M162,508 L161.5,511"/>
<path class="l" d="M157.2,513 V520 M166,508 V517"/>
</g>
<text class="n" x="149" y="562.5">16</text>
<path class="l" d="M154.7,527.8 V552.7"/>
<!-- ITEM 20 screw -->
<path class="w" d="M182,496.5 L175.3,500 Q173.8,502 175.5,503.5 L184,499.5 Z"/>
<path class="l" style="stroke:#555" d="M177,499.5 L178.3,502.5 M179,498.5 L180.3,501.6 M181,497.5 L182.3,500.6"/>
<path class="w" d="M181.5,495 Q182.5,492.5 186,492.5 Q189.5,493 189.5,496.5 Q189,500 185.5,500.5 Q182.5,500.5 181.8,498.5 Z"/>
<path class="l" d="M184.5,494 Q187.5,494.5 187.5,497.5"/>
<text class="n" x="179.7" y="479.2">20</text>
<path class="l" d="M185.2,480.4 V493"/>

<!-- ITEM 9 bolt -->
<g id="i9">
<ellipse class="w" cx="229.8" cy="465.5" rx="12" ry="6.8"/>
<path class="w" d="M223.9,463 L223.9,467 Q224.5,469 229.3,469 Q234,469 234.6,467 L234.6,463 Q234,459.5 229.3,459.5 Q224.5,459.5 223.9,463 Z"/>
<path class="l" d="M224,463.5 Q229.3,466 234.5,463.5 M225.5,465 h2 M231,465 h2"/>
<path class="w" d="M226.8,472.3 L226.8,492 Q229.6,493.5 232.5,492 L232.5,472.3"/>
<path class="l" style="stroke-width:2.2" stroke-dasharray="0.8,0.8" d="M227.8,478 V492 M231.5,478 V492"/>
<path class="l" d="M226.8,477.5 Q229.6,479 232.5,477.5"/>
</g>
<text class="n" x="255.4" y="470.5">9</text>
<path class="l" d="M241.6,466.5 H254.4"/>
<path class="l" d="M229.5,494.3 V541"/>
<!-- ITEM 1 strip -->
<path class="l" d="M242.5,429 L292,457.5 L292.5,461 L287.5,464.5 L238,436.5 L237.5,432 Z M237.5,432 L287.5,460.5 L292,457.5 M239,433 L251.5,439.5"/>
<text class="n" x="261.8" y="427.6">1</text>
<path class="l" d="M266.5,430 V442"/>
<!-- leader line from clip 19 -->
<path class="l" d="M232.7,420 L190.7,508.6 L198.6,515"/>

</svg>
</body></html>
